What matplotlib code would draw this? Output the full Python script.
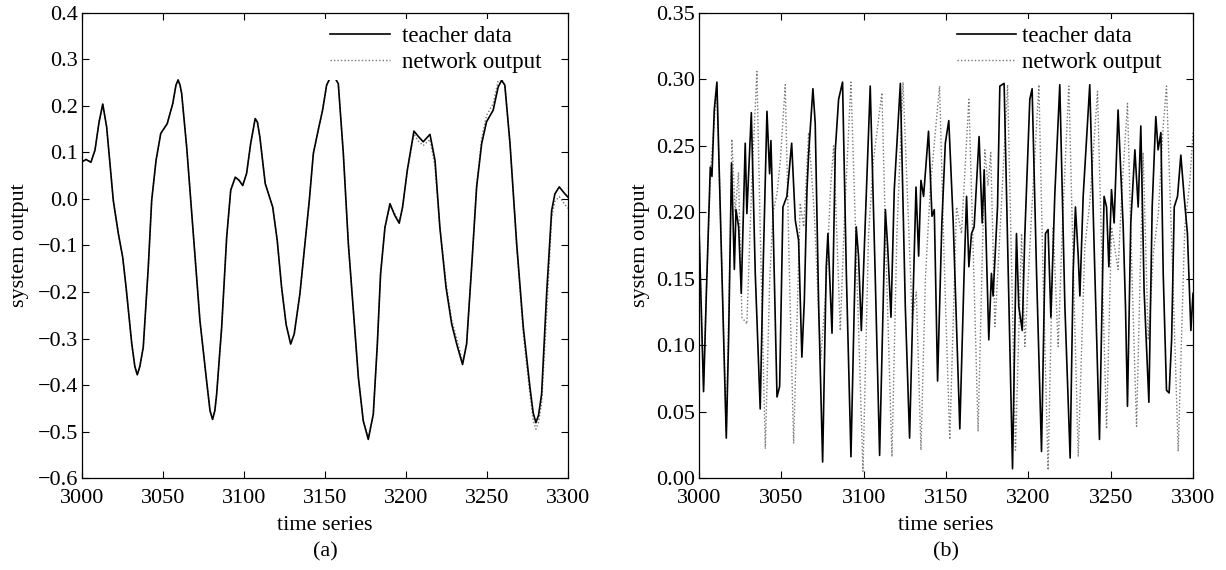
import matplotlib
matplotlib.use("Agg")
from matplotlib import pyplot as plt

plt.rcParams['font.family'] = ['Liberation Serif', 'DejaVu Serif']
plt.rcParams['font.size'] = 16
plt.rcParams['axes.unicode_minus'] = True

# (a) smooth system
a_t = [3000, 3002.5, 3005.5, 3008, 3010.5, 3012.8, 3015.2, 3019.3, 3022.4, 3025.1,
       3027.2, 3030.7, 3032.6, 3034.1, 3035.7, 3037.8, 3040.9, 3043, 3045.7, 3048.6,
       3052.6, 3056, 3058, 3059.3, 3060.5, 3061.5, 3064.6, 3068.7, 3072.8, 3076.9,
       3079, 3080.6, 3082, 3083.1, 3086.2, 3089.3, 3091.8, 3094.6, 3097, 3099.2,
       3101.6, 3104.1, 3106.9, 3108.3, 3109.8, 3113.1, 3117.7, 3120.5, 3123.2, 3126,
       3128.8, 3131, 3134.5, 3140.3, 3142.8, 3145.8, 3148.5, 3151, 3154.5, 3158.2,
       3161.3, 3164.4, 3167.5, 3170.6, 3173.6, 3176.7, 3179.8, 3182.3, 3184.3, 3187,
       3190.1, 3193, 3195.8, 3197.9, 3200.8, 3204.9, 3207.5, 3210.6, 3214.8, 3217.9,
       3220.9, 3224.7, 3228.2, 3231.3, 3234.9, 3237.4, 3240.5, 3243.6, 3246.7, 3249.7,
       3253.8, 3256.9, 3259, 3261, 3264.2, 3268.3, 3272.4, 3276.5, 3278.5, 3280.2,
       3281.8, 3283.7, 3286.8, 3289.9, 3291.9, 3294.6, 3298.1, 3300]
a_teacher = [0.080, 0.085, 0.079, 0.105, 0.165, 0.204, 0.155, -0.003, -0.074, -0.125,
             -0.190, -0.311, -0.360, -0.378, -0.360, -0.319, -0.147, -0.003, 0.083, 0.141,
             0.162, 0.205, 0.245, 0.256, 0.245, 0.227, 0.112, -0.075, -0.262, -0.391,
             -0.455, -0.474, -0.455, -0.420, -0.276, -0.082, 0.019, 0.047, 0.040, 0.029,
             0.055, 0.119, 0.173, 0.165, 0.133, 0.033, -0.017, -0.089, -0.190, -0.270,
             -0.312, -0.290, -0.204, -0.003, 0.098, 0.148, 0.191, 0.245, 0.270, 0.248,
             0.098, -0.096, -0.240, -0.384, -0.477, -0.517, -0.463, -0.312, -0.161, -0.061,
             -0.010, -0.035, -0.052, -0.017, 0.062, 0.146, 0.135, 0.123, 0.139, 0.083,
             -0.061, -0.190, -0.269, -0.312, -0.356, -0.312, -0.147, 0.026, 0.119, 0.166,
             0.191, 0.241, 0.255, 0.245, 0.119, -0.096, -0.276, -0.405, -0.460, -0.481,
             -0.465, -0.420, -0.204, -0.025, 0.011, 0.026, 0.011, 0.004]
a_network = [0.080, 0.085, 0.079, 0.105, 0.165, 0.204, 0.155, -0.003, -0.074, -0.125,
             -0.190, -0.311, -0.360, -0.378, -0.360, -0.319, -0.147, -0.003, 0.083, 0.141,
             0.162, 0.205, 0.245, 0.256, 0.245, 0.227, 0.112, -0.075, -0.262, -0.391,
             -0.455, -0.474, -0.455, -0.420, -0.276, -0.082, 0.019, 0.047, 0.040, 0.029,
             0.055, 0.119, 0.173, 0.165, 0.133, 0.033, -0.017, -0.089, -0.190, -0.270,
             -0.312, -0.290, -0.204, -0.003, 0.098, 0.148, 0.191, 0.245, 0.270, 0.248,
             0.098, -0.096, -0.240, -0.384, -0.477, -0.512, -0.463, -0.312, -0.161, -0.061,
             -0.015, -0.030, -0.050, -0.017, 0.060, 0.140, 0.125, 0.115, 0.128, 0.070,
             -0.061, -0.180, -0.260, -0.300, -0.350, -0.312, -0.147, 0.030, 0.130, 0.180,
             0.205, 0.255, 0.258, 0.245, 0.119, -0.100, -0.290, -0.420, -0.475, -0.495,
             -0.480, -0.440, -0.250, -0.040, -0.005, 0.005, -0.012, -0.020]

# (b) chaotic system
b_t = [3000, 3002.8, 3004.5, 3006.9, 3007.9, 3009.3, 3010.9, 3013, 3015, 3016.6,
       3018, 3019.8, 3021.5, 3022.5, 3024.1, 3025.7, 3028.1, 3029.1, 3031.8, 3034.2,
       3037.2, 3038.9, 3041.3, 3042.9, 3043.7, 3044.9, 3047.4, 3049, 3051, 3053.4,
       3056.3, 3058.5, 3060.5, 3062.5, 3064, 3065.6, 3066.6, 3069.2, 3070.6, 3072.7,
       3075.1, 3077.3, 3078.3, 3080.8, 3082.8, 3084.8, 3087.2, 3089.5, 3092.3, 3094.3,
       3095.5, 3096.9, 3098.6, 3104, 3107, 3109.7, 3113.2, 3114.6, 3116.6, 3118.6,
       3122.3, 3125.3, 3127.9, 3130.3, 3131.8, 3133.4, 3134.8, 3136.4, 3139.4, 3141.5,
       3142.9, 3144.9, 3147.5, 3149.6, 3151.7, 3154.4, 3158.4, 3161, 3162.5, 3163.9,
       3165.5, 3167.1, 3170.1, 3172, 3173.2, 3176, 3177.6, 3178.6, 3181.3, 3182.7,
       3185.3, 3187.8, 3190.4, 3192.8, 3194.2, 3196.3, 3197.9, 3200.9, 3202.3, 3205,
       3208, 3210.4, 3212, 3213.7, 3216.1, 3219.1, 3222.2, 3225.4, 3227.2, 3228.6,
       3230.3, 3231.3, 3233.3, 3237.3, 3240.4, 3243.2, 3246, 3247.5, 3248.9, 3250.5,
       3252.1, 3254.5, 3257.6, 3259, 3260.2, 3262.2, 3264.7, 3266.7, 3268.3, 3270.3,
       3273.2, 3275.2, 3277.4, 3278.8, 3280.5, 3281.9, 3283.9, 3285.5, 3287, 3288.6,
       3290.6, 3292.6, 3294.6, 3296.6, 3298.7, 3300]
b_teacher = [0.190, 0.065, 0.139, 0.234, 0.227, 0.277, 0.298, 0.199, 0.104, 0.030,
             0.104, 0.237, 0.157, 0.202, 0.189, 0.139, 0.252, 0.199, 0.275, 0.154,
             0.052, 0.154, 0.276, 0.229, 0.254, 0.199, 0.061, 0.069, 0.204, 0.212,
             0.252, 0.194, 0.179, 0.091, 0.134, 0.217, 0.244, 0.293, 0.267, 0.129,
             0.012, 0.159, 0.184, 0.109, 0.247, 0.285, 0.298, 0.154, 0.016, 0.129,
             0.189, 0.167, 0.111, 0.295, 0.154, 0.017, 0.202, 0.174, 0.121, 0.217,
             0.297, 0.129, 0.030, 0.149, 0.219, 0.167, 0.224, 0.212, 0.261, 0.197,
             0.202, 0.073, 0.192, 0.252, 0.269, 0.192, 0.037, 0.154, 0.212, 0.159,
             0.184, 0.189, 0.257, 0.192, 0.232, 0.104, 0.154, 0.137, 0.204, 0.295,
             0.297, 0.154, 0.007, 0.184, 0.129, 0.111, 0.184, 0.285, 0.293, 0.154,
             0.020, 0.184, 0.187, 0.121, 0.214, 0.296, 0.129, 0.015, 0.154, 0.204,
             0.167, 0.137, 0.212, 0.296, 0.154, 0.029, 0.212, 0.204, 0.159, 0.217,
             0.192, 0.277, 0.189, 0.129, 0.054, 0.192, 0.247, 0.204, 0.265, 0.141,
             0.057, 0.204, 0.272, 0.247, 0.260, 0.154, 0.066, 0.064, 0.104, 0.204,
             0.212, 0.243, 0.212, 0.184, 0.111, 0.139]
b_net_t = [3000, 3002.8, 3004.5, 3007, 3010.9, 3013, 3016.6, 3018.5, 3020, 3022,
           3024, 3026.1, 3029.1, 3032, 3035.2, 3037.5, 3040.3, 3043, 3045, 3047.4,
           3049.5, 3052.4, 3055, 3057.5, 3061.5, 3063.6, 3066.6, 3070, 3074, 3077,
           3080, 3081.8, 3085.8, 3088.5, 3092.3, 3096, 3099.6, 3103, 3106, 3111.1,
           3114, 3117.2, 3120.2, 3123.9, 3127, 3129.5, 3132, 3134.8, 3137.5, 3140.5,
           3146.1, 3149, 3152.3, 3156.4, 3159.4, 3163.9, 3167, 3169.5, 3173.6, 3175.5,
           3177.2, 3179.7, 3183, 3187.4, 3190, 3192.2, 3195.9, 3197.9, 3202, 3206.4,
           3209, 3212, 3215.1, 3218.1, 3221, 3224.6, 3227.5, 3230.3, 3234.3, 3237.3,
           3242, 3245, 3247.5, 3250.5, 3254.5, 3257, 3260.2, 3263, 3265.7, 3269.7,
           3272.8, 3276, 3279, 3281.9, 3283.9, 3287.5, 3291, 3295, 3298.1, 3300]
b_network = [0.190, 0.070, 0.140, 0.230, 0.295, 0.200, 0.035, 0.150, 0.255, 0.200,
             0.230, 0.121, 0.116, 0.220, 0.306, 0.170, 0.022, 0.150, 0.200, 0.214,
             0.240, 0.296, 0.150, 0.026, 0.207, 0.189, 0.260, 0.200, 0.090, 0.140,
             0.220, 0.250, 0.111, 0.200, 0.298, 0.150, 0.005, 0.184, 0.240, 0.290,
             0.150, 0.016, 0.184, 0.298, 0.200, 0.120, 0.140, 0.021, 0.150, 0.219,
             0.295, 0.160, 0.029, 0.204, 0.184, 0.285, 0.150, 0.035, 0.247, 0.220,
             0.245, 0.114, 0.190, 0.296, 0.150, 0.021, 0.184, 0.099, 0.200, 0.296,
             0.150, 0.006, 0.189, 0.099, 0.200, 0.295, 0.150, 0.016, 0.174, 0.207,
             0.291, 0.150, 0.037, 0.189, 0.157, 0.220, 0.282, 0.150, 0.039, 0.245,
             0.104, 0.170, 0.200, 0.265, 0.295, 0.160, 0.020, 0.189, 0.224, 0.260]

fig = plt.figure(figsize=(12.26, 5.70), dpi=100)
ax1 = fig.add_axes([0.0669, 0.1614, 0.3964, 0.8158])
ax2 = fig.add_axes([0.5701, 0.1614, 0.4030, 0.8158])

ax1.plot(a_t, a_teacher, color="black", lw=1.2, label="teacher data", zorder=3)
ax1.plot(a_t, a_network, color="#777777", lw=1.0, ls=(0, (1, 1.5)), label="network output", zorder=2)
ax2.plot(b_t, b_teacher, color="black", lw=1.2, label="teacher data", zorder=3)
ax2.plot(b_net_t, b_network, color="#777777", lw=1.0, ls=(0, (1, 1.5)), label="network output", zorder=2)

ax1.set_xlim(3000, 3300)
ax1.set_ylim(-0.6, 0.4)
ax1.set_yticks([-0.6, -0.5, -0.4, -0.3, -0.2, -0.1, 0.0, 0.1, 0.2, 0.3, 0.4])
ax1.set_yticklabels(["\u22120.6", "\u22120.5", "\u22120.4", "\u22120.3", "\u22120.2", "\u22120.1",
                     "0.0", "0.1", "0.2", "0.3", "0.4"])
ax2.set_xlim(3000, 3300)
ax2.set_ylim(0.0, 0.35)
ax2.set_yticks([0.0, 0.05, 0.10, 0.15, 0.20, 0.25, 0.30, 0.35])
ax2.set_yticklabels(["0.00", "0.05", "0.10", "0.15", "0.20", "0.25", "0.30", "0.35"])

panels = [(ax1, "(a)", -0.128, (0.496, 0.987), 0.55),
          (ax2, "(b)", -0.119, (0.508, 0.987), 0.25)]
for ax, tag, ylab_x, leg_anchor, txtpad in panels:
    ax.set_xticks([3000, 3050, 3100, 3150, 3200, 3250, 3300])
    ax.tick_params(direction="in", top=True, right=True, length=5, width=0.8,
                   labelsize=16)
    ax.tick_params(axis="x", pad=8)
    ax.tick_params(axis="y", pad=3)
    for s in ax.spines.values():
        s.set_linewidth(0.9)
    ax.set_xlabel("time series", fontsize=16)
    ax.xaxis.label.set_va("center")
    ax.xaxis.set_label_coords(0.5, -47 / 465)
    ax.set_ylabel("system output", fontsize=16)
    ax.yaxis.label.set_va("center")
    ax.yaxis.set_label_coords(ylab_x, 0.5)
    ax.text(0.5, -74 / 465, tag, transform=ax.transAxes, ha="center", va="center", fontsize=16)
    leg = ax.legend(loc="upper left", bbox_to_anchor=leg_anchor, fontsize=16.5,
                    frameon=True, fancybox=False, handlelength=2.6, handletextpad=txtpad,
                    labelspacing=0.23, borderpad=0.3, borderaxespad=0.0)
    leg.get_frame().set_edgecolor("none")
    leg.get_frame().set_facecolor("white")
    leg.get_frame().set_alpha(1.0)

plt.savefig("out.png", dpi=100)
